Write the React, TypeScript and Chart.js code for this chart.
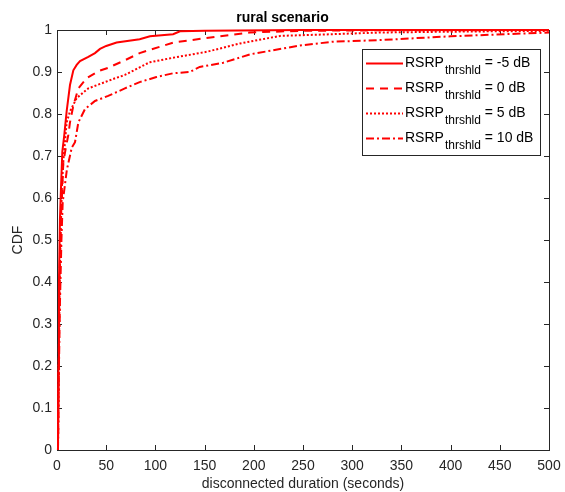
import React, { useEffect, useRef } from "react";
import { Chart, registerables } from "chart.js";

Chart.register(...registerables);

const titleText = "rural scenario";
const xAxisTitle = "disconnected duration (seconds)";
const yAxisTitle = "CDF";
const legendValues = ["-5 dB", "0 dB", "5 dB", "10 dB"];

const xMinus5 = [1, 1.5, 2, 3, 4, 5.4, 7.4, 9.8, 13.2, 16.6, 20, 23.4, 31.8, 38.6, 43.7, 50, 60.6, 84, 94.5, 118, 125, 150, 250, 500];
const yMinus5 = [0, 0.2, 0.4, 0.55, 0.62, 0.71, 0.75, 0.806, 0.869, 0.904, 0.917, 0.926, 0.936, 0.945, 0.955, 0.962, 0.97, 0.978, 0.985, 0.99, 0.997, 0.998, 1, 1];

const x0 = [1, 1.7, 2.5, 3.5, 5, 6.4, 9, 11.5, 13.2, 16.6, 21.7, 30, 42, 52, 69, 84, 118, 152, 196, 247, 300, 500];
const y0 = [0, 0.2, 0.4, 0.53, 0.6, 0.684, 0.72, 0.75, 0.78, 0.82, 0.861, 0.885, 0.902, 0.91, 0.928, 0.945, 0.97, 0.981, 0.994, 0.998, 0.999, 1];

const x5 = [1, 1.8, 2.7, 3.8, 5, 6.5, 8.1, 9.8, 13.2, 20, 31.8, 45.4, 59, 69, 94, 118, 152, 186, 227, 280, 328, 400, 500];
const y5 = [0, 0.2, 0.4, 0.52, 0.628, 0.69, 0.733, 0.78, 0.806, 0.838, 0.861, 0.873, 0.885, 0.893, 0.923, 0.934, 0.948, 0.968, 0.986, 0.99, 0.994, 0.996, 0.998];

const x10 = [1, 2, 3, 4.5, 5.8, 8, 10, 15, 18.3, 21.7, 28.5, 38.6, 52, 69, 84, 101, 118, 135, 145, 169, 196, 247, 280, 328, 400, 500];
const y10 = [0, 0.2, 0.35, 0.5, 0.59, 0.63, 0.667, 0.72, 0.733, 0.78, 0.812, 0.831, 0.843, 0.861, 0.876, 0.888, 0.897, 0.9, 0.912, 0.922, 0.942, 0.963, 0.972, 0.976, 0.985, 0.994];

const dashes: number[][] = [[], [8, 6], [2, 2], [8, 3, 2, 3]];
const RED = "#ff0000";
const AXIS = "#262626";
const FONT = "'Liberation Sans', Arial, sans-serif";

function pts(xs: number[], ys: number[]) {
  return xs.map((x, i) => ({ x, y: ys[i] }));
}

const boxTicksPlugin = {
  id: "boxTicks",
  beforeDatasetsDraw(chart: any) {
    const { ctx, chartArea } = chart;
    const { left, right, top, bottom } = chartArea;
    ctx.save();
    ctx.strokeStyle = AXIS;
    ctx.lineWidth = 1;
    ctx.strokeRect(Math.round(left) + 0.5, Math.round(top) + 0.5, Math.round(right - left), Math.round(bottom - top));
    const L = 5;
    ctx.beginPath();
    chart.scales.x.ticks.forEach((t: any) => {
      const px = Math.round(chart.scales.x.getPixelForValue(t.value)) + 0.5;
      ctx.moveTo(px, bottom);
      ctx.lineTo(px, bottom - L);
      ctx.moveTo(px, top);
      ctx.lineTo(px, top + L);
    });
    chart.scales.y.ticks.forEach((t: any) => {
      const py = Math.round(chart.scales.y.getPixelForValue(t.value)) + 0.5;
      ctx.moveTo(left, py);
      ctx.lineTo(left + L, py);
      ctx.moveTo(right, py);
      ctx.lineTo(right - L, py);
    });
    ctx.stroke();
    ctx.restore();
  },
};

const legendPlugin = {
  id: "customLegend",
  afterDatasetsDraw(chart: any) {
    const { ctx } = chart;
    ctx.save();
    const bx = 362.5, by = 49.5, bw = 178, bh = 106;
    ctx.fillStyle = "#ffffff";
    ctx.fillRect(bx, by, bw, bh);
    ctx.strokeStyle = AXIS;
    ctx.lineWidth = 1;
    ctx.strokeRect(bx, by, bw, bh);
    legendValues.forEach((val, i) => {
      const ly = 63.5 + i * 25;
      ctx.strokeStyle = RED;
      ctx.lineWidth = 2;
      ctx.setLineDash(dashes[i]);
      ctx.beginPath();
      ctx.moveTo(366, ly);
      ctx.lineTo(403, ly);
      ctx.stroke();
      ctx.setLineDash([]);
      const base = ly + 3.5;
      ctx.fillStyle = "#000000";
      ctx.textBaseline = "alphabetic";
      ctx.textAlign = "left";
      ctx.font = `14px ${FONT}`;
      ctx.fillText("RSRP", 405, base);
      const w1 = ctx.measureText("RSRP").width;
      ctx.font = `12px ${FONT}`;
      ctx.fillText("thrshld", 405 + w1 + 1, base + 6.5);
      const w2 = ctx.measureText("thrshld").width;
      ctx.font = `14px ${FONT}`;
      ctx.fillText(" = " + val, 405 + w1 + 1 + w2, base);
    });
    ctx.restore();
  },
};

export default function App() {
  const ref = useRef<HTMLCanvasElement>(null);
  useEffect(() => {
    if (!ref.current) return;
    const series = [
      pts(xMinus5, yMinus5),
      pts(x0, y0),
      pts(x5, y5),
      pts(x10, y10),
    ];
    const chart = new Chart(ref.current, {
      type: "line",
      data: {
        datasets: series.map((d, i) => ({
          label: "RSRP thrshld = " + legendValues[i],
          data: d,
          borderColor: RED,
          backgroundColor: RED,
          borderWidth: 2,
          borderDash: dashes[i],
          pointRadius: 0,
          tension: 0,
          fill: false,
          clip: false as any,
        })),
      },
      options: {
        animation: false,
        responsive: false,
        layout: { padding: 0 },
        plugins: {
          legend: { display: false },
          tooltip: { enabled: false },
          title: {
            display: true,
            text: titleText,
            color: "#000000",
            font: { family: FONT, size: 14, weight: "bold" },
            padding: { top: 9.3, bottom: 3.9 },
          },
        },
        scales: {
          x: {
            type: "linear",
            min: 0,
            max: 500,
            grid: { display: false, drawTicks: false },
            border: { display: false },
            ticks: {
              stepSize: 50,
              color: AXIS,
              padding: 8,
              maxRotation: 0,
              font: { family: FONT, size: 14 },
            },
            title: {
              display: true,
              text: xAxisTitle,
              color: AXIS,
              font: { family: FONT, size: 14, lineHeight: 1 },
              padding: { top: 0, bottom: 0.5 },
            },
            afterFit: (scale: any) => {
              scale.height = 42;
              scale.paddingRight = 16;
              scale.paddingLeft = 0;
            },
          },
          y: {
            type: "linear",
            min: 0,
            max: 1,
            grid: { display: false, drawTicks: false },
            border: { display: false },
            ticks: {
              stepSize: 0.1,
              color: AXIS,
              padding: 5,
              font: { family: FONT, size: 14 },
              callback: (v: any) => String(Number(Number(v).toFixed(1))),
            },
            title: {
              display: true,
              text: yAxisTitle,
              color: AXIS,
              font: { family: FONT, size: 14 },
              padding: { top: 10, bottom: 0 },
            },
            afterFit: (scale: any) => {
              scale.width = 57;
              scale.paddingTop = 0;
              scale.paddingBottom = 0;
            },
          },
        },
      },
      plugins: [boxTicksPlugin, legendPlugin],
    });
    return () => chart.destroy();
  }, []);
  return (
    <div style={{ position: "absolute", left: 0, top: 0, width: 565, height: 492, background: "#fff" }}>
      <canvas ref={ref} width={565} height={492} style={{ width: 565, height: 492 }} />
    </div>
  );
}
